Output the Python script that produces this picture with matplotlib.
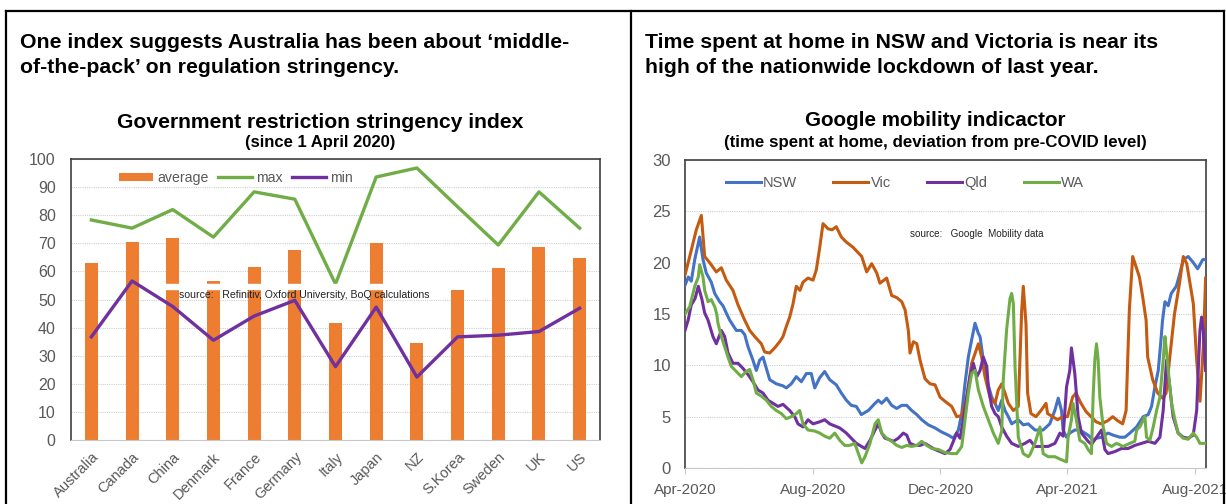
import matplotlib.pyplot as plt
from matplotlib.lines import Line2D
from matplotlib.patches import Rectangle
import numpy as np

plt.rcParams['font.family'] = ['Liberation Sans', 'DejaVu Sans']

# ---- left chart data: stringency index since 1 April 2020
countries = ['Australia', 'Canada', 'China', 'Denmark', 'France', 'Germany', 'Italy',
             'Japan', 'NZ', 'S.Korea', 'Sweden', 'UK', 'US']
avg_idx = [62.9, 70.5, 71.9, 56.6, 61.6, 67.6, 41.8, 70.0, 34.5, 53.5, 61.1, 68.7, 64.7]
max_idx = [78.3, 75.4, 82.0, 72.2, 88.3, 85.7, 55.5, 93.6, 96.8, 83.0, 69.4, 88.3, 75.4]
min_idx = [36.7, 56.6, 47.5, 35.5, 44.1, 49.7, 26.1, 47.3, 22.4, 36.7, 37.3, 38.6, 46.9]

# ---- right chart data: time at home, deviation from pre-COVID (days since 1 Apr 2020)
nsw_day = [0, 3.2, 6, 9.3, 12.7, 14, 17.2, 20.3, 25.1, 28.4, 33.1, 36.3, 39.4, 42.7, 49, 53.8, 57,
           60.2, 64.9, 68.1, 71.3, 74.5, 77.7, 80.9, 87.2, 93.6, 96.8, 101.5, 106.3, 111.1, 115.9,
           120.6, 123.9, 128.7, 133.4, 138.2, 144.5, 149.3, 154.1, 158.8, 163.6, 168.4, 175.1,
           181.5, 184.6, 187.9, 192.6, 197.4, 202.2, 207, 211.8, 216.5, 221.4, 226.1, 232.4,
           238.8, 245.2, 251.5, 256.3, 261.1, 264.3, 267.4, 270.6, 273.8, 277, 280.2, 281.8,
           284.9, 288.2, 292.9, 296.1, 299.2, 302.5, 305.6, 308.8, 312, 318.3, 323.1, 327.8,
           334.2, 342, 348.4, 353.2, 356.5, 359.6, 361.1, 364.4, 367.5, 372.3, 377.1, 381.9,
           385, 389.8, 393, 397.8, 404.1, 408.9, 415.3, 420.1, 424.9, 431.3, 437.6, 442.4,
           445.6, 448.8, 452, 454.2, 456.1, 458.4, 461.5, 464.4, 469.2, 472.3, 475.9, 480.6,
           485.5, 489.6, 494.5, 497.2]
nsw_val = [17.8, 18.6, 18.2, 20.3, 21.9, 22.5, 20.3, 19.0, 18.1, 17.0, 16.2, 15.8, 15.1, 14.4,
           13.4, 13.4, 13.0, 11.8, 10.5, 9.5, 10.5, 10.8, 9.7, 8.6, 8.2, 8.0, 7.8, 8.2, 8.9, 8.4,
           9.2, 9.2, 7.8, 8.8, 9.4, 8.6, 8.1, 7.3, 6.6, 6.1, 6.0, 5.2, 5.6, 6.3, 6.6, 6.3, 6.8,
           6.1, 5.8, 6.1, 6.1, 5.6, 5.2, 4.7, 4.2, 3.9, 3.5, 3.2, 2.9, 3.7, 5.3, 8.2, 10.8, 12.5,
           14.1, 13.1, 12.8, 10.5, 8.6, 6.9, 6.3, 5.6, 6.6, 5.6, 5.0, 4.3, 4.7, 4.2, 4.3, 3.7,
           3.7, 4.3, 5.6, 6.8, 5.6, 3.7, 3.0, 3.4, 3.7, 3.7, 3.4, 3.2, 2.7, 2.9, 3.0, 3.4, 3.2,
           3.0, 3.0, 3.4, 4.0, 5.0, 5.2, 6.0, 7.9, 9.5, 12.0, 14.4, 16.2, 15.8, 17.0, 17.7,
           18.8, 20.3, 20.6, 20.0, 19.4, 20.3, 20.3]

vic_day = [0, 4.5, 10.8, 15.6, 18.8, 23.6, 29.9, 34.7, 39.4, 45.8, 50.6, 57, 61.8, 66.6, 72.9,
           76.1, 80.9, 85.7, 90.4, 93.6, 96.8, 100, 103.2, 106.3, 109.8, 112.7, 117.5, 122.3,
           125.4, 128.7, 131.8, 136.6, 140.4, 144.5, 149.3, 154.1, 160.5, 168.8, 173.5, 178.3,
           183.1, 186.2, 192.6, 197.4, 202.2, 207, 210.2, 213.3, 214.9, 218.1, 221.4, 224.5,
           229.2, 234, 238.8, 243.6, 248.3, 254.7, 259.5, 264.3, 269.1, 273.8, 280.2, 283.4,
           286.5, 291.3, 296.1, 299.2, 302.5, 305.6, 308.8, 313.6, 318.3, 321.6, 323.1, 325.7,
           327.2, 330.4, 335.2, 340, 344.8, 346.3, 351.1, 355.9, 360.6, 365.4, 370.2, 373.4,
           378.2, 383, 387.8, 392.6, 397.4, 403.7, 408.5, 413.3, 418, 421.3, 422.8, 424.4,
           427.6, 430.8, 434, 437.1, 440.4, 441.9, 446.7, 451.5, 456.3, 459.5, 462.7, 467.5,
           472.3, 475.9, 479.2, 482.3, 485.5, 488.7, 491.9, 495.1, 497.2]
vic_val = [18.8, 20.6, 23.2, 24.6, 20.6, 20.0, 19.1, 19.5, 18.3, 17.3, 15.9, 14.4, 13.4, 12.8,
           12.1, 11.3, 11.2, 11.7, 12.3, 12.8, 13.8, 14.7, 16.0, 17.7, 17.3, 18.1, 18.5, 18.3,
           19.3, 21.5, 23.8, 23.3, 23.2, 23.5, 22.5, 22.0, 21.5, 20.6, 19.1, 19.9, 19.0, 18.0,
           18.5, 16.8, 16.6, 16.2, 15.4, 13.4, 11.2, 12.3, 12.1, 10.5, 8.7, 8.2, 8.1, 6.9, 6.5,
           6.0, 5.0, 5.1, 6.9, 10.2, 12.1, 10.8, 8.9, 6.9, 6.3, 7.6, 8.2, 7.3, 6.3, 5.6, 6.0,
           15.4, 17.7, 14.0, 7.3, 5.3, 5.0, 5.6, 6.3, 5.3, 5.0, 4.7, 5.0, 5.0, 6.9, 7.3, 6.3,
           5.5, 5.0, 4.5, 4.3, 4.6, 5.0, 4.6, 4.3, 5.6, 10.5, 15.4, 20.6, 19.6, 18.6, 16.7,
           14.4, 10.8, 8.6, 7.3, 6.8, 7.3, 10.5, 15.0, 18.0, 20.6, 19.9, 18.0, 16.0, 10.5, 6.5,
           12.0, 18.5]

qld_day = [0, 3, 6, 9.6, 12.7, 16, 18.8, 22, 26.7, 29.9, 34.7, 37.9, 41.1, 45.8, 50.6, 55.4,
           60.2, 64.9, 69.7, 74.5, 79.3, 84, 88.8, 93.6, 100, 104.8, 107.9, 112.7, 117.5, 122.3,
           128.7, 133.4, 138.2, 143, 147.8, 154.1, 158.8, 163.6, 171.9, 176.7, 181.5, 184.6,
           187.9, 191, 194.2, 199, 203.7, 208.5, 211.8, 214.9, 219.7, 224.5, 229.2, 234, 238.8,
           243.6, 248.3, 253.1, 256.3, 259.5, 262.7, 265.8, 269.1, 272.3, 275.4, 278.7, 281.8,
           284.9, 288.2, 289.7, 292.9, 296.1, 299.2, 302.5, 307.2, 312, 318.3, 324.7, 329.5,
           334.2, 340.6, 346.9, 353.3, 358.1, 361.2, 364.4, 367.5, 369.1, 372.3, 375.5, 378.7,
           381.9, 385, 388.3, 393, 397.8, 401, 404.1, 410.5, 416.9, 423.2, 429.6, 436, 442.4,
           448.8, 453.6, 456.7, 459.9, 463, 466.2, 471, 475.8, 480.6, 485.4, 488.7, 490.2,
           491.8, 493.4, 495, 497.2]
qld_val = [13.4, 14.4, 15.9, 16.5, 17.7, 16.5, 15.1, 14.4, 12.8, 12.1, 13.4, 12.8, 11.2, 10.2,
           10.2, 9.7, 9.1, 8.4, 7.6, 7.3, 6.6, 6.3, 6.0, 6.2, 5.6, 5.0, 4.3, 4.0, 4.7, 4.3, 4.5,
           4.7, 4.3, 4.1, 3.9, 3.4, 2.9, 2.4, 1.9, 2.7, 3.7, 4.3, 3.4, 2.9, 2.8, 2.6, 2.9, 3.4,
           3.2, 2.4, 2.2, 2.2, 2.4, 2.1, 1.8, 1.6, 1.4, 1.8, 2.6, 3.4, 2.9, 4.7, 6.9, 8.9, 10.2,
           8.9, 9.5, 10.8, 9.9, 7.9, 6.0, 5.3, 5.0, 4.0, 3.1, 2.4, 2.1, 2.4, 2.7, 2.1, 2.1, 2.1,
           2.4, 3.4, 3.1, 7.9, 9.5, 11.7, 9.2, 5.0, 3.4, 3.0, 2.6, 2.3, 3.0, 3.7, 1.8, 1.4, 1.6,
           1.9, 1.9, 2.2, 2.4, 2.6, 2.4, 3.0, 5.6, 10.5, 7.9, 5.0, 3.4, 3.0, 2.9, 3.2, 5.6, 9.5,
           13.4, 14.7, 13.4, 9.5]

wa_day = [0, 4.5, 9.3, 12.7, 14, 17.2, 18.8, 22, 25.1, 28.4, 30.3, 31.5, 34.7, 37.9, 41.1, 44.2,
          49, 53.8, 58.5, 61.8, 64.9, 68.1, 72.9, 77.7, 82.4, 87.2, 92, 96.8, 101.5, 106.3, 109.5,
          112.7, 117.5, 123.9, 128.7, 133.4, 138.2, 143, 147.8, 152.5, 157.3, 162.1, 165.3,
          168.8, 171.9, 176.7, 181.5, 184.6, 187.9, 192.6, 197.4, 202.2, 207, 211.8, 216.5,
          221.4, 226.1, 230.9, 235.7, 242, 248.4, 254.7, 259.5, 264.3, 267.4, 270.6, 273.8, 277,
          280.2, 284.9, 289.7, 294.5, 299.2, 302.5, 304, 307.2, 310.4, 312, 313.6, 315.2, 318.3,
          323.1, 327.9, 329.5, 334.2, 339, 342.1, 346.9, 353.3, 359.6, 364.4, 365.9, 369.1,
          370.6, 373.8, 377, 381.8, 385, 388.2, 389.8, 391.4, 393, 394.6, 396.2, 399.4, 402.6,
          407.4, 412.2, 418.5, 424.9, 429.6, 431.3, 434.4, 439.2, 440.8, 444, 447.2, 450.4,
          453.6, 456.7, 458.4, 460, 461.5, 464.7, 467.9, 471, 475.8, 480.6, 485.4, 488.7, 491.8,
          497.2]
wa_val = [15.0, 15.7, 17.7, 18.6, 19.8, 18.6, 17.3, 16.2, 16.4, 15.7, 15.0, 14.1, 12.8, 11.8,
          10.8, 9.9, 9.4, 8.9, 9.4, 9.6, 8.6, 7.3, 7.0, 6.6, 6.0, 5.6, 5.3, 4.8, 5.0, 5.3, 5.6,
          4.3, 3.7, 3.6, 3.4, 3.1, 2.9, 3.4, 2.7, 2.2, 2.2, 2.4, 1.5, 0.5, 1.1, 2.4, 4.3, 4.7,
          3.4, 2.9, 2.6, 2.2, 2.0, 2.2, 2.1, 2.2, 2.6, 2.2, 1.9, 1.8, 1.5, 1.4, 1.4, 2.1, 4.7,
          7.3, 9.2, 9.5, 7.6, 6.0, 4.7, 3.4, 2.4, 3.6, 8.6, 13.5, 16.5, 17.0, 16.0, 9.9, 3.0,
          1.4, 1.1, 1.3, 2.4, 4.0, 1.4, 1.1, 1.1, 0.8, 0.6, 3.0, 4.7, 6.3, 4.7, 2.7, 2.4, 1.8,
          1.4, 7.0, 10.5, 12.1, 10.5, 6.9, 4.0, 2.4, 2.1, 2.4, 2.1, 2.4, 2.6, 3.7, 4.0, 5.0, 3.0,
          2.7, 4.0, 5.6, 6.9, 10.5, 12.8, 11.2, 9.5, 6.3, 4.7, 3.4, 2.9, 2.8, 3.4, 3.0, 2.4, 2.4]

date_ticks = ['2020-04-01', '2020-08-01', '2020-12-01', '2021-04-01', '2021-08-01']
date_labels = ['Apr-2020', 'Aug-2020', 'Dec-2020', 'Apr-2021', 'Aug-2021']

orange = '#ED7D31'
green = '#70AD47'
purple = '#7030A0'
blue = '#4472C4'
brown = '#C55A11'
grey = '#595959'

W, H = 1226, 504
fig = plt.figure(figsize=(W / 100, H / 100), dpi=100)

# panel frames
for xs, ys in [((6, 6), (11, 504)), ((631, 631), (11, 504)), ((1224, 1224), (11, 504)),
               ((6, 1224), (11, 11))]:
    fig.add_artist(Line2D([x / W for x in xs], [1 - y / H for y in ys], color='black', lw=1.6))

fig.text(20 / W, 1 - 33 / H, 'One index suggests Australia has been about \u2018middle-\n'
         'of-the-pack\u2019 on regulation stringency.', fontsize=15.3, fontweight='bold',
         va='top', linespacing=1.4)
fig.text(645 / W, 1 - 33 / H, 'Time spent at home in NSW and Victoria is near its\n'
         'high of the nationwide lockdown of last year.', fontsize=15.3, fontweight='bold',
         va='top', linespacing=1.4)

# ---------------- left chart
ax1 = fig.add_axes([71 / W, 1 - 440 / H, 529 / W, 281 / H])
x = np.arange(len(countries))
ax1.bar(x, avg_idx, width=0.32, color=orange, label='average', zorder=2)
ax1.plot(x, max_idx, color=green, lw=2.4, label='max', zorder=3)
ax1.plot(x, min_idx, color=purple, lw=2.4, label='min', zorder=5)
ax1.add_patch(Rectangle((1.6, 53.6), 6.0, 1.8, color='white', zorder=4))
ax1.text(2.15, 51.6, 'source:   Refinitiv, Oxford University, BoQ calculations',
         fontsize=7.6, color='#222222', va='center', zorder=6)
ax1.set_xlim(-0.5, len(countries) - 0.5)
ax1.set_ylim(0, 100)
ax1.set_yticks(range(0, 101, 10))
ax1.set_xticks(x)
ax1.set_xticklabels(countries, rotation=45, ha='right', rotation_mode='anchor')
ax1.tick_params(axis='both', length=0, colors=grey, labelsize=11.5)
ax1.tick_params(axis='y', pad=11)
ax1.tick_params(axis='x', labelsize=10.5, pad=7)
ax1.grid(axis='y', color='#D0D0D0', lw=0.8, ls=(0, (1, 1)), zorder=0)
for s in ['top', 'right', 'left']:
    ax1.spines[s].set_color('#404040')
    ax1.spines[s].set_linewidth(1.2)
ax1.spines['bottom'].set_color('#C8C8C8')
h, l = ax1.get_legend_handles_labels()
order = [l.index('average'), l.index('max'), l.index('min')]
leg1 = ax1.legend([h[i] for i in order], [l[i] for i in order], loc='center left',
                  bbox_to_anchor=(0.078, 0.932), ncol=3, frameon=False, fontsize=10.2,
                  handlelength=2.4, handleheight=0.55, columnspacing=0.7, handletextpad=0.25,
                  borderpad=0)
for t in leg1.get_texts():
    t.set_color(grey)

fig.text(320 / W, 1 - 122 / H, 'Government restriction stringency index', fontsize=15.2,
         fontweight='bold', ha='center', va='center')
fig.text(320 / W, 1 - 143 / H, '(since 1 April 2020)', fontsize=12, fontweight='bold',
         ha='center', va='center')

# ---------------- right chart
start = np.datetime64('2020-04-01')
ax2 = fig.add_axes([685 / W, 1 - 468 / H, 521 / W, 308 / H])
ax2.plot(nsw_day, nsw_val, color=blue, lw=2.2, label='NSW', zorder=3)
ax2.plot(vic_day, vic_val, color=brown, lw=2.2, label='Vic', zorder=3)
ax2.plot(qld_day, qld_val, color=purple, lw=2.2, label='Qld', zorder=3)
ax2.plot(wa_day, wa_val, color=green, lw=2.2, label='WA', zorder=3)
ax2.text(215, 22.8, 'source:   Google  Mobility data', fontsize=7.1, color='#222222',
         va='center')
ticks = [(np.datetime64(d) - start).astype(int) for d in date_ticks]
ax2.set_xticks(ticks)
ax2.set_xticklabels(date_labels)
ax2.set_xlim(0, 497.6)
ax2.set_ylim(0, 30)
ax2.set_yticks(range(0, 31, 5))
ax2.tick_params(axis='y', length=0, colors=grey, labelsize=12, pad=10)
ax2.tick_params(axis='x', length=4, colors=grey, labelsize=11, color='#C8C8C8', pad=7)
ax2.grid(axis='y', color='#D0D0D0', lw=0.8, ls=(0, (1, 1)), zorder=0)
for s in ['top', 'right', 'left']:
    ax2.spines[s].set_color('#404040')
    ax2.spines[s].set_linewidth(1.2)
ax2.spines['bottom'].set_color('#C8C8C8')
leg2 = ax2.legend(loc='center left', bbox_to_anchor=(0.064, 0.926), ncol=4, frameon=False,
                  fontsize=10.5, handlelength=2.4, columnspacing=2.5, handletextpad=0.15,
                  borderpad=0)
for t in leg2.get_texts():
    t.set_color(grey)

fig.text(935 / W, 1 - 120 / H, 'Google mobility indicactor', fontsize=14.9, fontweight='bold',
         ha='center', va='center')
fig.text(935 / W, 1 - 142 / H, '(time spent at home, deviation from pre-COVID level)',
         fontsize=12.2, fontweight='bold', ha='center', va='center')

fig.savefig('out.png', dpi=100)
